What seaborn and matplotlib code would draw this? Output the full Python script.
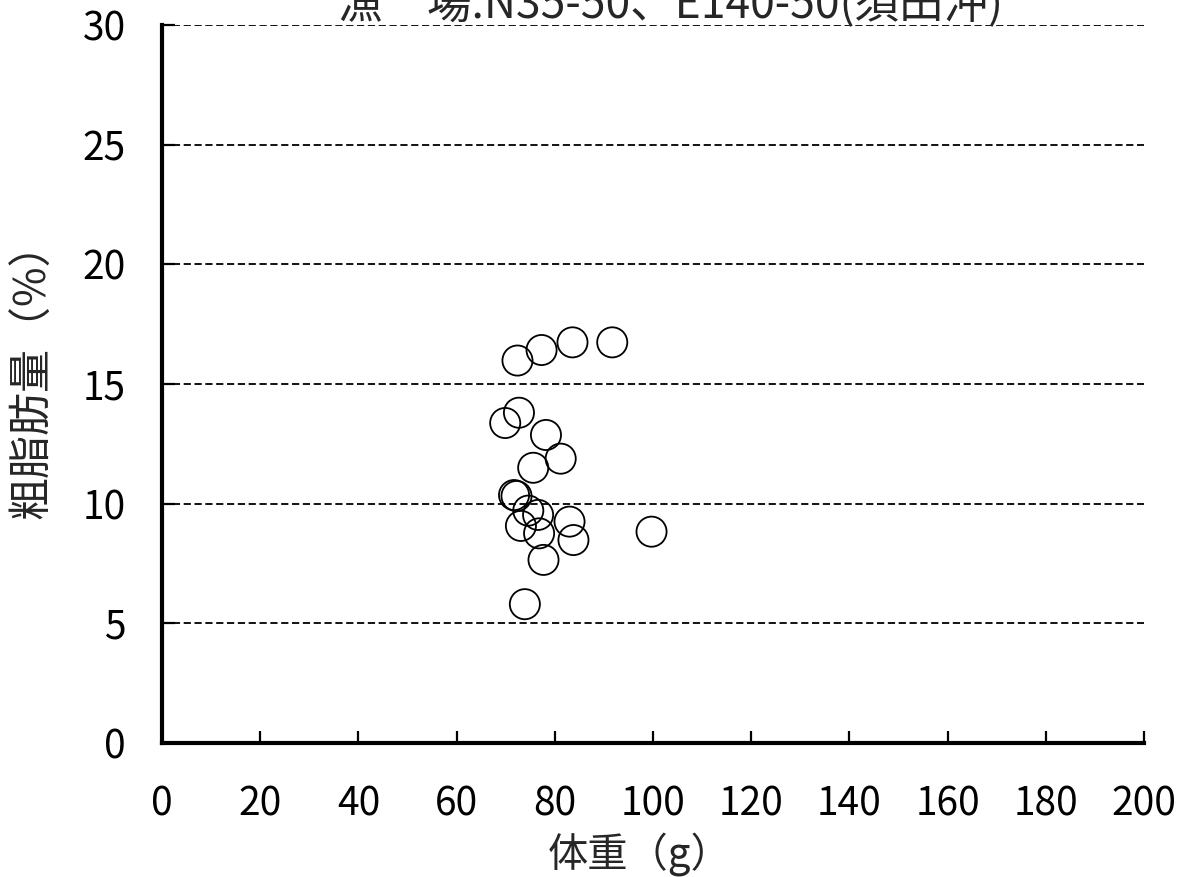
import matplotlib
matplotlib.use("Agg")
import matplotlib.pyplot as plt
import seaborn as sns
import pandas as pd

weight = [72.4, 77.3, 83.6, 91.7, 72.7, 69.9, 78.2, 81.2, 75.6, 71.7, 72.2,
          74.6, 76.6, 83.0, 73.1, 76.8, 83.8, 99.7, 77.7, 73.9]
fat = [15.98, 16.42, 16.74, 16.74, 13.80, 13.37, 12.87, 11.88, 11.50, 10.36, 10.32,
       9.71, 9.53, 9.25, 9.07, 8.76, 8.48, 8.83, 7.65, 5.80]
xticks = [0, 20, 40, 60, 80, 100, 120, 140, 160, 180, 200]
yticks = [0, 5, 10, 15, 20, 25, 30]
title = "漁　場:N35-50、E140-50(須田沖)"
xlabel = "体重（g）"
ylabel = "粗脂肪量（%）"

df = pd.DataFrame({"weight": weight, "fat": fat})

sns.set_style("white")
plt.rcParams["font.family"] = ["Noto Sans CJK JP", "DejaVu Sans"]

fig = plt.figure(figsize=(11.9, 8.77), dpi=100)
ax = fig.add_axes([162/1190, 1-743/877, (1144-162)/1190, (743-25)/877])

for y in yticks[1:]:
    ax.axhline(y, color="black", lw=1.3, ls=(0, (4, 2)), zorder=1)

sns.scatterplot(data=df, x="weight", y="fat", ax=ax, s=470, marker="o",
                facecolor="none", edgecolor="black", linewidth=1.3, zorder=3)

ax.set_xlim(0, 200)
ax.set_ylim(0, 30)
ax.set_xticks(xticks)
ax.set_yticks(yticks)
ax.set_xlabel("")
ax.set_ylabel("")
for s in ["top", "right"]:
    ax.spines[s].set_visible(False)
for s in ["left", "bottom"]:
    ax.spines[s].set_linewidth(3)
    ax.spines[s].set_color("black")
ax.tick_params(axis="both", direction="in", length=9, width=1.6, colors="black",
               labelsize=28, bottom=True, left=True)
ax.tick_params(axis="x", pad=30)
ax.tick_params(axis="y", pad=26)

fig.text(671/1190, 1-17/877, title, ha="center", va="baseline", fontsize=32)
fig.text(640/1190, 1-854/877, xlabel, ha="center", va="center", fontsize=29)
fig.text(33/1190, 1-370/877, ylabel, ha="center", va="center", fontsize=31, rotation=90)

fig.savefig("out.png", dpi=100)
